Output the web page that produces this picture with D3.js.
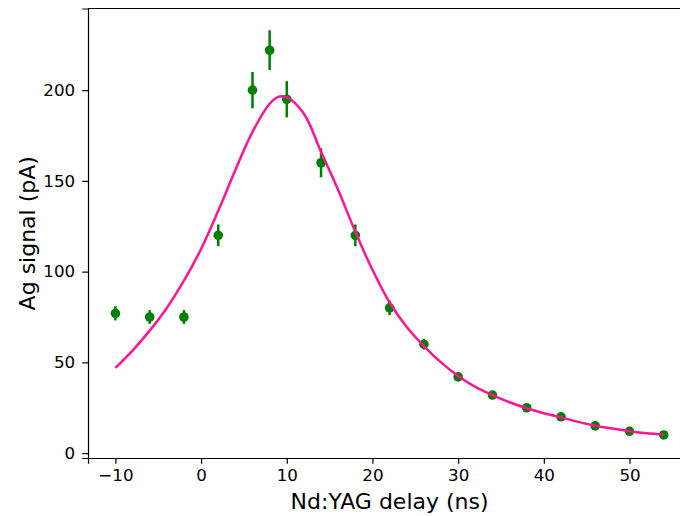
<!DOCTYPE html>
<html>
<head>
<meta charset="utf-8">
<script src="https://cdn.jsdelivr.net/npm/d3@7"></script>
<style>
  html, body { margin: 0; padding: 0; background: #fff; overflow: hidden; }
  svg { display: block; }
  text { font-family: "DejaVu Sans", sans-serif; fill: #000; }
</style>
</head>
<body>
<svg id="chart" width="680" height="516"></svg>
<script>
// Measured data (Nd:YAG delay in ns, Ag signal in pA)
const delays = [-10, -6, -2, 2, 6, 8, 10, 14, 18, 22, 26, 30, 34, 38, 42, 46, 50, 54];
const signal = [77, 75, 75, 120, 200, 222, 195, 160, 120, 80, 60, 42, 32, 25, 20, 15, 12, 10];
const signalErr = [3.9, 3.8, 3.8, 6, 10, 11, 10, 8, 6, 4, 3, 2.1, 1.6, 1.3, 1, 0.8, 0.6, 0.5];

// Fitted curve
const fitX = [-10, -8, -6, -4, -2, 0, 2, 4, 6, 8, 9, 10, 12, 14, 16, 18, 20, 22, 24, 26, 28, 30, 32, 34, 36, 38, 40, 42, 44, 46, 48, 50, 52, 54];
const fitY = [47, 56.5, 67.5, 80, 95, 112.5, 133.5, 156, 177, 192.5, 196.3, 196, 187, 166, 145, 122, 101, 83, 69.5, 59, 50, 42.5, 36.5, 32, 28, 24.7, 22, 19.7, 17.2, 15.1, 13.5, 12.1, 11, 10.3];

const xTicks = [-10, 0, 10, 20, 30, 40, 50];
const yTicks = [0, 50, 100, 150, 200];

const svg = d3.select("#chart");
const mLeft = 88, mTop = 8.5, mBottom = 458, mRight = 691.2;

const x = d3.scaleLinear().domain([-13.2, 57.2]).range([mLeft, mRight]);
const y = d3.scaleLinear().domain([-2.7, 245]).range([mBottom, mTop]);

const tickFmt = d => d < 0 ? "\u2212" + Math.abs(d) : String(d);

// X axis
const xAxis = svg.append("g")
  .attr("transform", `translate(0,${mBottom})`)
  .call(d3.axisBottom(x).tickValues(xTicks).tickFormat(tickFmt).tickSizeOuter(0).tickSize(5.8).tickPadding(5));
xAxis.select(".domain").attr("stroke", "#000").attr("stroke-width", 1.2);
xAxis.selectAll(".tick line").attr("stroke", "#000").attr("stroke-width", 1.2);
xAxis.selectAll(".tick text").style("font-size", "16.7px").style("font-family", "DejaVu Sans");

// Y axis
const yAxis = svg.append("g")
  .attr("transform", `translate(${mLeft},0)`)
  .call(d3.axisLeft(y).tickValues(yTicks).tickFormat(tickFmt).tickSizeOuter(0).tickSize(5.8).tickPadding(7))
yAxis.select(".domain").attr("stroke", "#000").attr("stroke-width", 1.2);
yAxis.selectAll(".tick line").attr("stroke", "#000").attr("stroke-width", 1.2);
yAxis.selectAll(".tick text").style("font-size", "16.7px").style("font-family", "DejaVu Sans");

// Top spine
svg.append("line")
  .attr("x1", mLeft).attr("x2", mRight).attr("y1", mTop).attr("y2", mTop)
  .attr("stroke", "#000").attr("stroke-width", 1.2);
// Right spine (outside the visible window)
svg.append("line")
  .attr("x1", mRight).attr("x2", mRight).attr("y1", mTop).attr("y2", mBottom)
  .attr("stroke", "#000").attr("stroke-width", 1.2);

// Axis titles
svg.append("text")
  .attr("x", (mLeft + mRight) / 2).attr("y", 509)
  .attr("text-anchor", "middle")
  .style("font-size", "22px")
  .text("Nd:YAG delay (ns)");

svg.append("text")
  .attr("transform", `translate(35,${(mTop + mBottom) / 2}) rotate(-90)`)
  .attr("text-anchor", "middle")
  .style("font-size", "22px")
  .text("Ag signal (pA)");

// Error bars
const pts = delays.map((d, i) => ({ x: d, y: signal[i], e: signalErr[i] }));
svg.append("g").selectAll("line").data(pts).join("line")
  .attr("x1", d => x(d.x)).attr("x2", d => x(d.x))
  .attr("y1", d => y(d.y - d.e)).attr("y2", d => y(d.y + d.e))
  .attr("stroke", "green").attr("stroke-width", 2.5);

// Points
svg.append("g").selectAll("circle").data(pts).join("circle")
  .attr("cx", d => x(d.x)).attr("cy", d => y(d.y))
  .attr("r", 4.8).attr("fill", "green");

// Fit curve
const fit = fitX.map((d, i) => [d, fitY[i]]);
svg.append("path")
  .datum(fit)
  .attr("fill", "none")
  .attr("stroke", "#ff1493")
  .attr("stroke-width", 2.5)
  .attr("d", d3.line().x(d => x(d[0])).y(d => y(d[1])).curve(d3.curveCatmullRom.alpha(0.5)));
</script>
</body>
</html>
